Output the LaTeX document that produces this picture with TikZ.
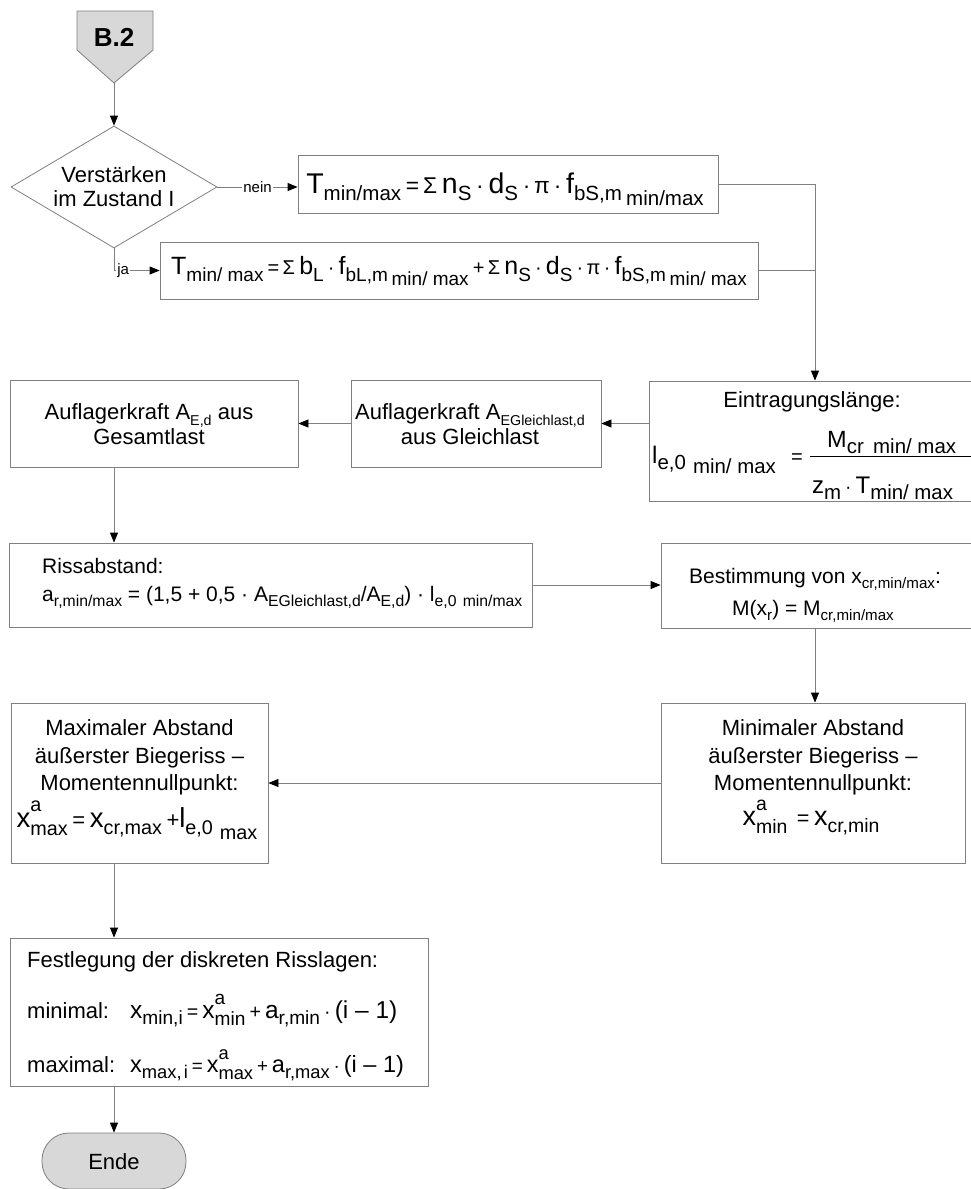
\documentclass[tikz,border=0pt]{standalone}
\usepackage{fontspec}
\setmainfont{Liberation Sans}
\usepackage{graphicx}
\usetikzlibrary{shapes.geometric,arrows.meta}

\definecolor{ln}{RGB}{128,128,128}
\definecolor{shade}{RGB}{216,216,216}

\newcommand\lo[2][0.72]{\raisebox{-0.28em}{\scalebox{#1}{#2}}}
\newcommand\llo[2][0.72]{\raisebox{-0.45em}{\scalebox{#1}{#2}}}
\newcommand\op[1]{\scalebox{0.8}{#1}}
\newcommand\supsub[3][0.72]{\makebox[0pt][l]{\raisebox{0.55em}{\scalebox{#1}{#2}}}\raisebox{-0.3em}{\scalebox{#1}{#3}}}
\newcommand\fs[1]{\fontsize{#1}{#1}\selectfont}

\begin{document}
\begin{tikzpicture}[x=1pt,y=-1pt,
  box/.style={draw=ln, line width=0.8pt, rectangle, inner sep=0pt},
  conn/.style={draw=ln, line width=0.8pt},
  arr/.style={conn, -{Triangle[length=10pt,width=8pt,color=black]}},
  txt/.style={inner sep=0pt, anchor=base, font=\fs{22}},
  txtl/.style={txt, anchor=base west},
  lbl/.style={inner sep=1pt, fill=white, font=\fs{15}},
]
\fill[white] (0,0) rectangle (971,1189);
\useasboundingbox (0,0) rectangle (971,1189);

% start pentagon
\filldraw[fill=shade, draw=ln, line width=0.8pt] (77,11) -- (153,11) -- (153,50) -- (114,83) -- (77,50) -- cycle;
\coordinate (b2tip) at (114,83);
\node[txt, font=\fs{26}\bfseries] (b2) at (114,46.5) {B.2};

% decision
\node[diamond, draw=ln, line width=0.8pt, minimum width=206pt, minimum height=122pt, inner sep=0pt] (dia) at (114,187) {};
\node[txt] (dia1) at (114,182) {Verstärken};
\node[txt] (dia2) at (114,206) {im Zustand I};
\draw[arr] (b2tip) -- (dia.north);

% box 1
\node[box, minimum width=420pt, minimum height=58pt] (t1) at (508,184) {};
\node[txt, font=\fs{28.5}] (t1f) at (505,193) {T\lo{min/max}\,\op{=\,Σ}\,n\lo{S}\,\op{·}\,d\lo{S}\,\op{·\,π\,·}\,f\lo{bS,m}\hspace{0.15em}\llo{min/max}};
\draw[arr] (dia.east) -- node[lbl]{nein} (dia.east -| t1.west);

% box 2
\node[box, minimum width=598pt, minimum height=57pt] (t2) at (459,270.5) {};
\node[txt, font=\fs{25}] (t2f) at (459,274) {T\lo[0.76]{min/ max}\,\op{=\,Σ}\,b\lo[0.76]{L}\,\op{·}\,f\lo[0.76]{bL,m}\hspace{0.15em}\llo[0.76]{min/ max}\,\op{+\,Σ}\,n\lo[0.76]{S}\,\op{·}\,d\lo[0.76]{S}\,\op{·\,π\,·}\,f\lo[0.76]{bS,m}\hspace{0.15em}\llo[0.76]{min/ max}};
\draw[arr] (dia.south) |- node[lbl, pos=0.6]{ja} (t2.west);

% Eintragungslaenge
\node[box, minimum width=332pt, minimum height=120pt] (ein) at (815,441) {};
\node[txt] (eint) at (812,407) {Eintragungslänge:};
\node[txtl, font=\fs{24}] (einl) at (652,463) {l\lo[0.85]{e,0}\hspace{0.3em}\llo[0.85]{min/ max}};
\node[txt, font=\fs{25}] (eineq) at (797,463) {\op{=}};
\node[txtl, font=\fs{23.5}] (einn) at (827,447) {M\lo[0.87]{cr}\hspace{0.4em}\lo[0.87]{min/ max}};
\draw[black, line width=1pt] (810,456) -- (990,456);
\node[txtl, font=\fs{24}] (eind) at (812,493) {z\lo[0.85]{m}\,\op{·}\,T\lo[0.85]{min/ max}};
\draw[arr] (t1.east) -| (ein.north);
\draw[conn] (t2.east) -- (t2.east -| ein.north);

% Auflagerkraft boxes
\node[box, minimum width=250pt, minimum height=87pt] (gl) at (476,423.5) {};
\node[txt] (gl1) at (470,419) {Auflagerkraft A\lo[0.65]{EGleichlast,d}};
\node[txt] (gl2) at (470,444) {aus Gleichlast};
\node[box, minimum width=288pt, minimum height=87pt] (ae) at (154,423.5) {};
\node[txt] (ae1) at (149,419) {Auflagerkraft A\lo[0.65]{E,d} aus};
\node[txt] (ae2) at (149,444) {Gesamtlast};
\draw[arr] (gl.east -| ein.west) -- (gl.east);
\draw[arr] (gl.west) -- (ae.east);

% Rissabstand
\node[box, minimum width=523pt, minimum height=84pt] (ri) at (270.5,585) {};
\node[txtl, font=\fs{21}] (ri1) at (42,573) {Rissabstand:};
\node[txtl, font=\fs{21}] (ri2) at (42,601) {a\lo[0.75]{r,min/max} = (1,5 + 0,5 · A\lo[0.75]{EGleichlast,d}/A\lo[0.75]{E,d}) · l\lo[0.75]{e,0}\hspace{0.3em}\lo[0.75]{min/max}};
\draw[arr] (ae.south -| dia.south) -- (ri.north -| dia.south);

% Bestimmung
\node[box, minimum width=330pt, minimum height=85pt] (be) at (826,585.5) {};
\node[txt, font=\fs{21}] (be1) at (815,583) {Bestimmung von x\lo{cr,min/max}:};
\node[txt, font=\fs{21}] (be2) at (813,615) {M(x\lo{r}) = M\lo{cr,min/max}};
\draw[arr] (ri.east) -- (ri.east -| be.west);

% Minimal
\node[box, minimum width=304pt, minimum height=160pt] (mi) at (813,783) {};
\node[txt] (mi1) at (813,735) {Minimaler Abstand};
\node[txt] (mi2) at (813,763) {äußerster Biegeriss –};
\node[txt] (mi3) at (813,790) {Momentennullpunkt:};
\node[txt, font=\fs{27}] (mi4) at (811,825) {x\supsub{a}{min}\hspace{0.35em}\op{=}\,x\lo{cr,min}};
\draw[arr] (be.south -| ein.north) -- (mi.north -| ein.north);

% Maximal
\node[box, minimum width=257pt, minimum height=160pt] (ma) at (139.5,783) {};
\node[txt] (ma1) at (139.5,735) {Maximaler Abstand};
\node[txt] (ma2) at (139.5,763) {äußerster Biegeriss –};
\node[txt] (ma3) at (139.5,790) {Momentennullpunkt:};
\node[txt, font=\fs{27.5}] (ma4) at (137,827) {x\supsub{a}{max}\,\op{=}\,x\lo{cr,max}\,\op{+}l\lo{e,0}\hspace{0.25em}\llo{max}};
\draw[arr] (mi.west) -- (ma.east);

% Festlegung
\node[box, minimum width=418pt, minimum height=148pt] (fe) at (219,1012) {};
\node[txtl] (fe1) at (27,967) {Festlegung der diskreten Risslagen:};
\node[txtl] (fe2) at (27,1018) {minimal:};
\node[txtl, font=\fs{24.5}] (fe3) at (130,1018) {x\lo[0.78]{min,i}\,\op{=}\,x\supsub[0.78]{a}{min}\,\op{+}\,a\lo[0.78]{r,min}\,\op{·}\,(i – 1)};
\node[txtl] (fe4) at (27,1072) {maximal:};
\node[txtl, font=\fs{23.5}] (fe5) at (130,1072) {x\lo[0.78]{max,\hspace{0.12em}i}\,\op{=}\,x\supsub[0.78]{a}{max}\,\op{+}\,a\lo[0.78]{r,max}\,\op{·}\,(i – 1)};
\draw[arr] (ma.south -| dia.south) -- (fe.north -| dia.south);

% Ende
\node[draw=ln, fill=shade, line width=0.8pt, rounded corners=27pt, minimum width=144pt, minimum height=56pt, inner sep=0pt] (en) at (114,1161) {};
\node[txt] (ent) at (114,1169) {Ende};
\draw[arr] (fe.south -| dia.south) -- (en.north);
\end{tikzpicture}
\end{document}
